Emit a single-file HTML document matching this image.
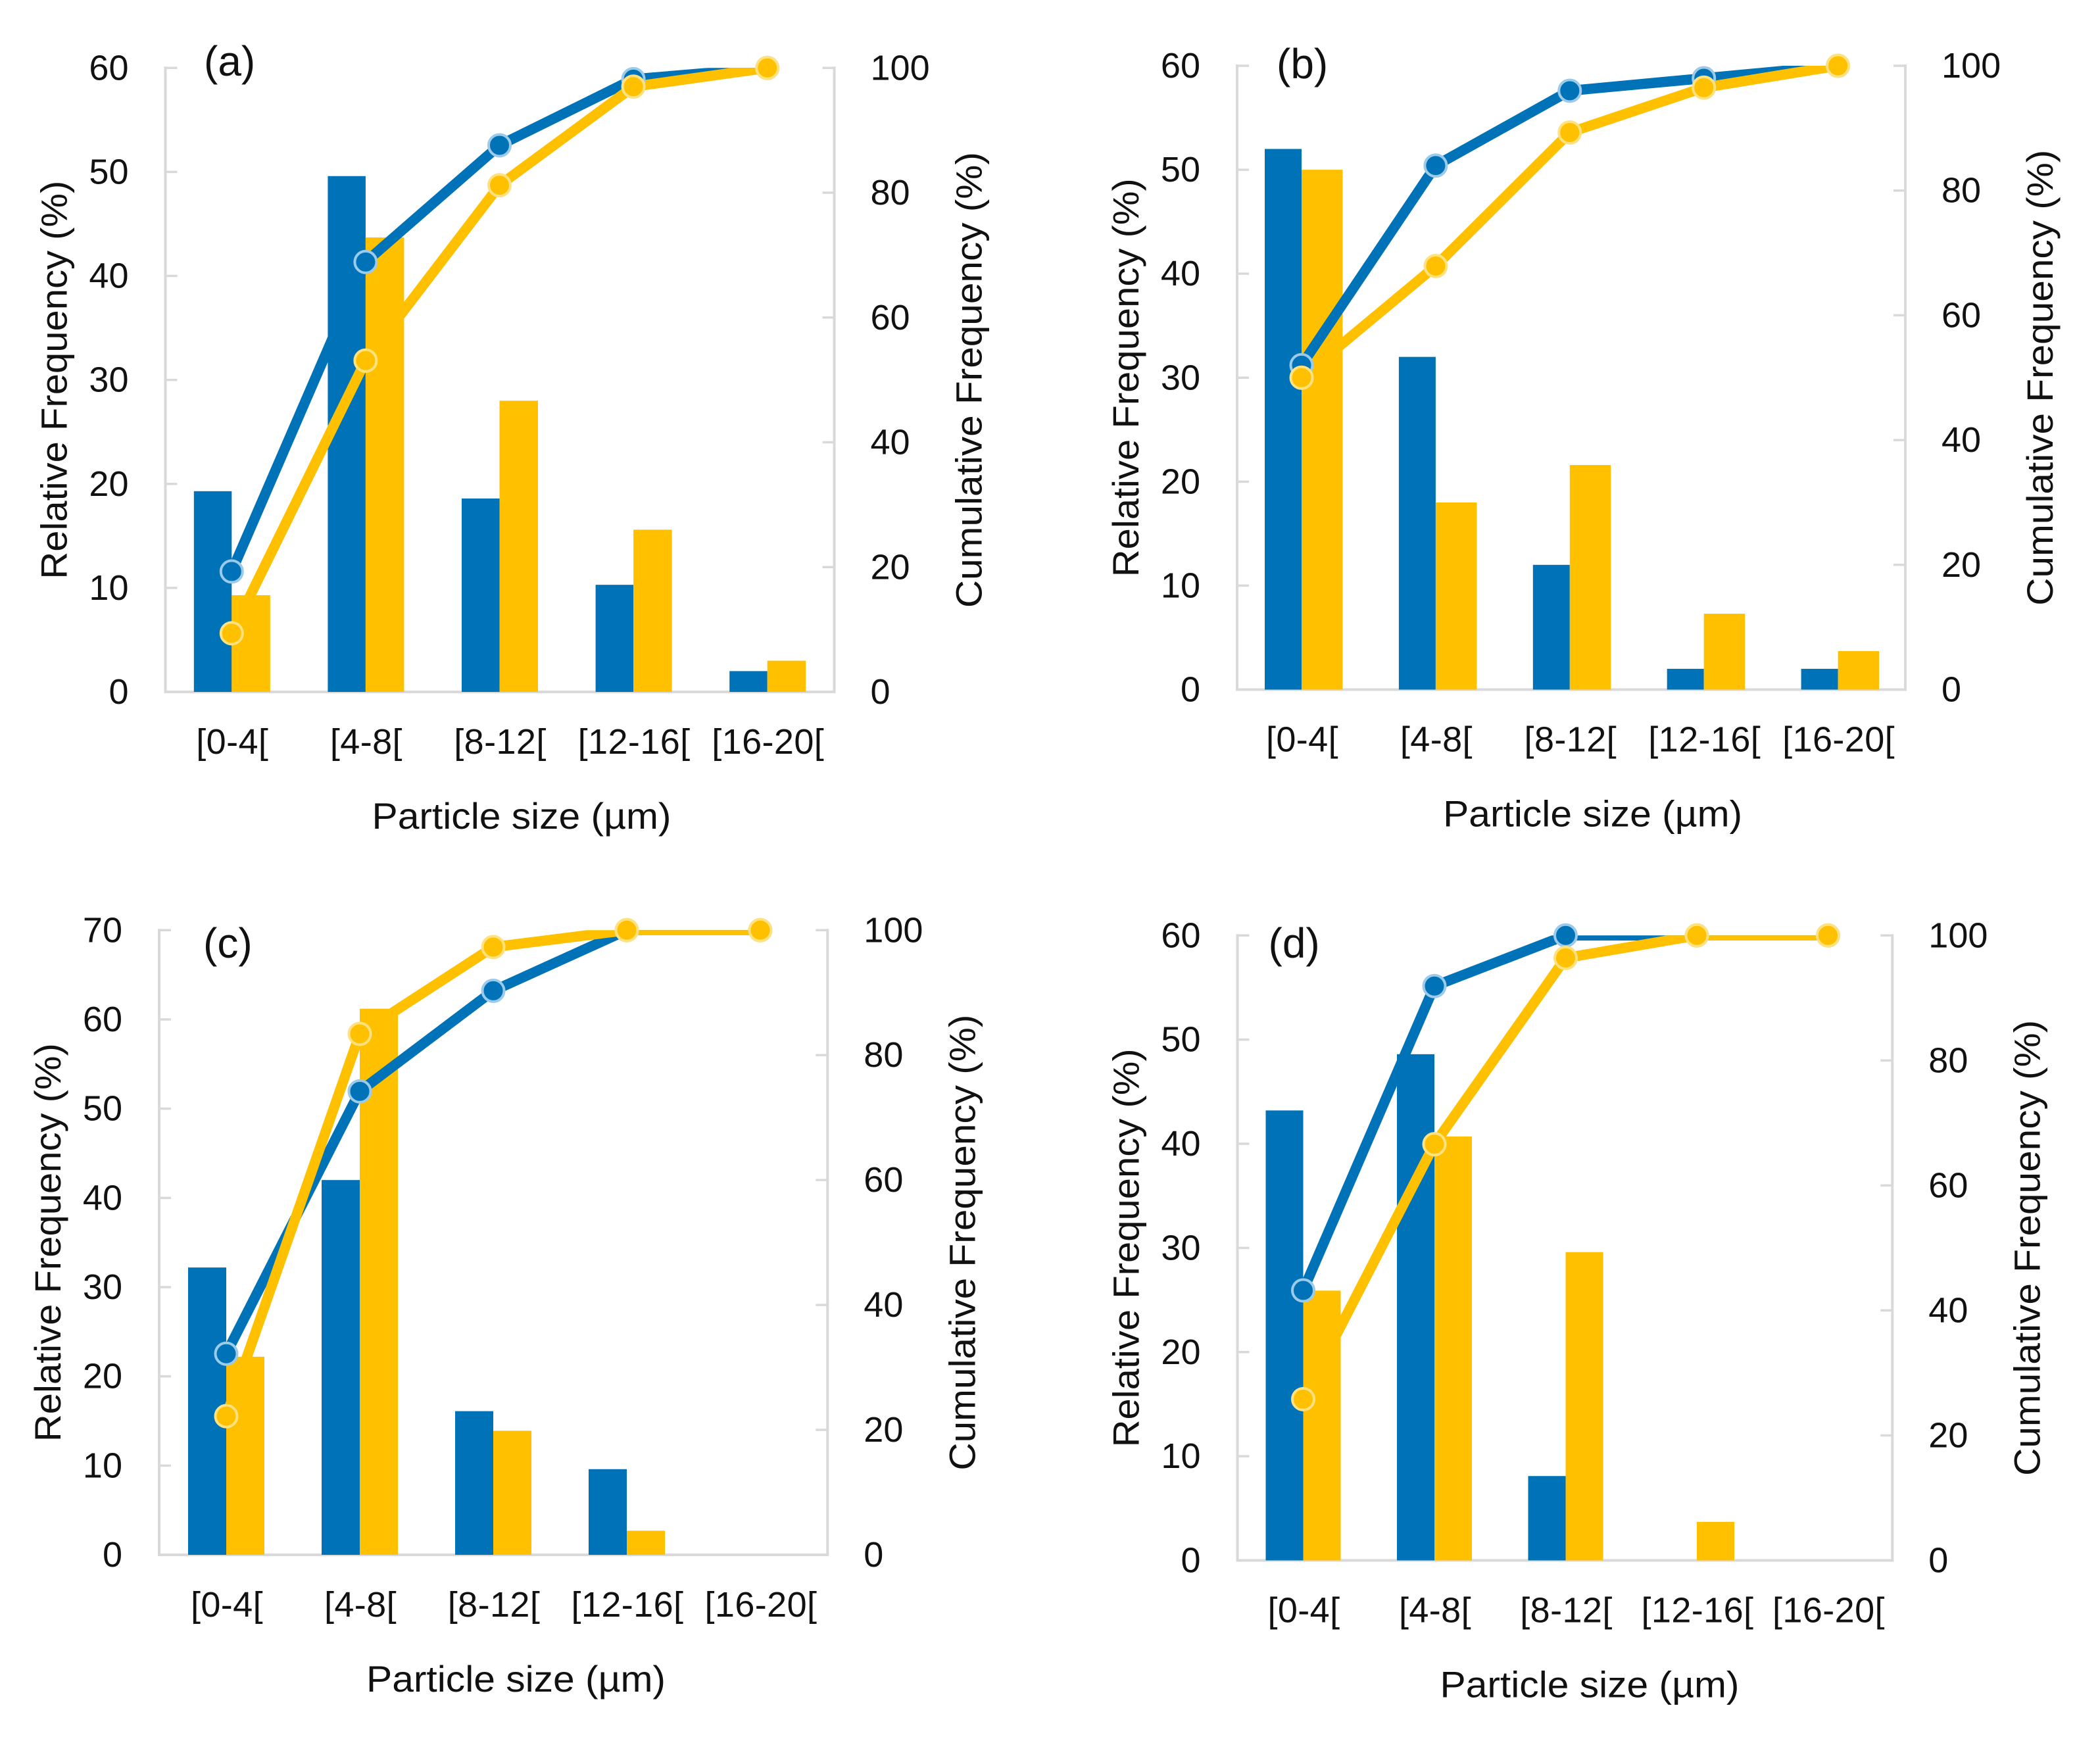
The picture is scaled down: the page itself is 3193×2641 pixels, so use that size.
<!DOCTYPE html>
<html lang="en">
<head>
<meta charset="utf-8">
<title>Particle size distributions</title>
<style>
html,body{margin:0;padding:0;background:#fff;}
svg{display:block;}
text{font-family:"Liberation Sans",sans-serif;fill:#111;}
</style>
</head>
<body>
<svg id="figure" xmlns="http://www.w3.org/2000/svg" width="3193" height="2641" viewBox="0 0 3193 2641">
<rect width="3193" height="2641" fill="#fff"/>
<defs id="clips"></defs>
</svg>
<script>
const categories = ['[0-4[', '[4-8[', '[8-12[', '[12-16[', '[16-20['];
const cumulativeTicks = [0, 20, 40, 60, 80, 100];
const freqTicks60 = [0, 10, 20, 30, 40, 50, 60];
const freqTicks70 = [0, 10, 20, 30, 40, 50, 60, 70];

const barsBlueA = [19.3, 49.6, 18.6, 10.3, 2];
const barsYellowA = [9.3, 43.7, 28, 15.6, 3];
const cumBlueA = [19.3, 68.9, 87.6, 98.2, 100];
const cumYellowA = [9.4, 53.1, 81.2, 97, 100];

const barsBlueB = [52, 32, 12, 2, 2];
const barsYellowB = [50, 18, 21.6, 7.3, 3.7];
const cumBlueB = [52, 84, 96, 98, 100];
const cumYellowB = [50, 67.9, 89.3, 96.5, 100];

const barsBlueC = [32.2, 42, 16.1, 9.6, 0];
const barsYellowC = [22.2, 61.2, 13.9, 2.7, 0];
const cumBlueC = [32.2, 74.2, 90.3, 100, 100];
const cumYellowC = [22.2, 83.4, 97.3, 100, 100];

const barsBlueD = [43.2, 48.6, 8.1, 0, 0];
const barsYellowD = [25.9, 40.7, 29.6, 3.7, 0];
const cumBlueD = [43.2, 91.9, 100, 100, 100];
const cumYellowD = [25.8, 66.6, 96.4, 100, 100];

const BLUE = '#0073b8', YELLOW = '#ffc000', AXIS = '#d9d9d9';
const svg = document.getElementById('figure');
const clips = document.getElementById('clips');
const NS = 'http://www.w3.org/2000/svg';

function make(tag, parent, attrs) {
  const el = document.createElementNS(NS, tag);
  for (const k in attrs) el.setAttribute(k, attrs[k]);
  parent.appendChild(el);
  return el;
}

function drawPanel(p) {
  const g = make('g', svg, {});
  
  

  const xCenter = i => p.x0 + p.band * i;
  const yFreq = v => p.bottom - (v / p.freqMax) * (p.bottom - p.top);
  const yCum = v => p.bottom - (v / 100) * (p.bottom - p.top);

  // axes
  const axisLeft = make('line', g, {x1: p.left, x2: p.left, y1: p.top - 2, y2: p.bottom + 2, stroke: AXIS, 'stroke-width': 4});
  
  
  const axisRight = make('line', g, {x1: p.right, x2: p.right, y1: p.top - 2, y2: p.bottom + 2, stroke: AXIS, 'stroke-width': 4});
  
  
  const axisBottom = make('line', g, {x1: p.left - 2, x2: p.right + 2, y1: p.bottom, y2: p.bottom, stroke: AXIS, 'stroke-width': 4});
  
  

  // left ticks
  p.freqTicks.forEach(t => {
    const y = yFreq(t);
    const tick = make('line', g, {x1: p.left, x2: p.left + 18, y1: y, y2: y, stroke: AXIS, 'stroke-width': 3.5});
    
    
    const lab = make('text', g, {x: p.left - 56, y: y + 18, 'text-anchor': 'end', 'font-size': 54});
    
    
    lab.textContent = t;
  });

  // right ticks
  cumulativeTicks.forEach(t => {
    const y = yCum(t);
    const tick = make('line', g, {x1: p.right - 18, x2: p.right, y1: y, y2: y, stroke: AXIS, 'stroke-width': 3.5});
    
    
    const lab = make('text', g, {x: p.right + 55, y: y + 18, 'text-anchor': 'start', 'font-size': 54});
    
    
    lab.textContent = t;
  });

  // bars
  categories.forEach((c, i) => {
    const cx = xCenter(i);
    const hb = p.bottom - yFreq(p.barsBlue[i]);
    const b = make('rect', g, {x: cx - p.blueW, y: yFreq(p.barsBlue[i]), width: p.blueW, height: hb, fill: BLUE});
    
    
    const hy = p.bottom - yFreq(p.barsYellow[i]);
    const r = make('rect', g, {x: cx, y: yFreq(p.barsYellow[i]), width: p.yellowW, height: hy, fill: YELLOW});
    
    

    const lab = make('text', g, {x: cx + 1, y: p.bottom + 94, 'text-anchor': 'middle', 'font-size': 54, 'letter-spacing': 0.4});
    
    
    lab.textContent = c;
  });

  // clip for lines: the line is cut at the plot top, markers are not clipped
  const clip = make('clipPath', clips, {id: 'clip-' + p.id});
  make('rect', clip, {x: p.left, y: p.top, width: p.right - p.left, height: p.bottom - p.top});

  const series = [
    {key: 'blue', vals: p.cumBlue, col: BLUE, ring: '#9ccbea'},
    {key: 'yellow', vals: p.cumYellow, col: YELLOW, ring: '#ffe27f'}
  ];
  series.forEach(s => {
    const pts = s.vals.map((v, i) => xCenter(i) + ',' + yCum(v)).join(' ');
    const line = make('polyline', g, {points: pts, fill: 'none', stroke: s.col, 'stroke-width': 15.5, 'stroke-linejoin': 'round', 'clip-path': 'url(#clip-' + p.id + ')'});
    
    
  });
  series.forEach(s => {
    s.vals.forEach((v, i) => {
      const m = make('circle', g, {cx: xCenter(i), cy: yCum(v), r: 16.5, fill: s.col, stroke: s.ring, 'stroke-width': 4});
      
      
    });
  });

  // titles
  const midY = (p.top + p.bottom) / 2;
  const xt = make('text', g, {x: p.titleX, y: p.bottom + 208, 'text-anchor': 'middle', 'font-size': 56, textLength: 455, lengthAdjust: 'spacingAndGlyphs'});
  
  
  xt.textContent = 'Particle size (\u00b5m)';

  const lx = p.left - 150;
  const lt = make('text', g, {x: lx, y: midY, 'text-anchor': 'middle', 'font-size': 56, textLength: 606, lengthAdjust: 'spacingAndGlyphs', transform: 'rotate(-90 ' + lx + ' ' + midY + ')'});
  
  
  lt.textContent = 'Relative Frequency (%)';

  const rx = p.right + 224;
  const rt = make('text', g, {x: rx, y: midY, 'text-anchor': 'middle', 'font-size': 56, textLength: 693, lengthAdjust: 'spacingAndGlyphs', transform: 'rotate(-90 ' + rx + ' ' + midY + ')'});
  
  
  rt.textContent = 'Cumulative Frequency (%)';

  const pl = make('text', g, {x: p.tagX, y: p.tagY, 'text-anchor': 'start', 'font-size': 64});
  
  
  pl.textContent = '(' + p.id + ')';
}

drawPanel({id: 'a', left: 251.5, right: 1268.5, top: 103.3, bottom: 1052, x0: 352.3, band: 203.6, freqMax: 60, freqTicks: freqTicks60,
  barsBlue: barsBlueA, barsYellow: barsYellowA, cumBlue: cumBlueA, cumYellow: cumYellowA,
  blueW: 57.5, yellowW: 58.5, titleX: 793, tagX: 310, tagY: 115});
drawPanel({id: 'b', left: 1881, right: 2897, top: 100, bottom: 1048.5, x0: 1979, band: 203.9, freqMax: 60, freqTicks: freqTicks60,
  barsBlue: barsBlueB, barsYellow: barsYellowB, cumBlue: cumBlueB, cumYellow: cumYellowB,
  blueW: 56, yellowW: 62.5, titleX: 2421.6, tagX: 1941, tagY: 119});
drawPanel({id: 'c', left: 242, right: 1258.3, top: 1414.3, bottom: 2364, x0: 344, band: 203, freqMax: 70, freqTicks: freqTicks70,
  barsBlue: barsBlueC, barsYellow: barsYellowC, cumBlue: cumBlueC, cumYellow: cumYellowC,
  blueW: 58, yellowW: 58, titleX: 784.5, tagX: 309, tagY: 1456});
drawPanel({id: 'd', left: 1881.5, right: 2877.3, top: 1422.3, bottom: 2372.5, x0: 1981.5, band: 199.5, freqMax: 60, freqTicks: freqTicks60,
  barsBlue: barsBlueD, barsYellow: barsYellowD, cumBlue: cumBlueD, cumYellow: cumYellowD,
  blueW: 57, yellowW: 57, titleX: 2417, tagX: 1928.5, tagY: 1456});
</script>
</body>
</html>
